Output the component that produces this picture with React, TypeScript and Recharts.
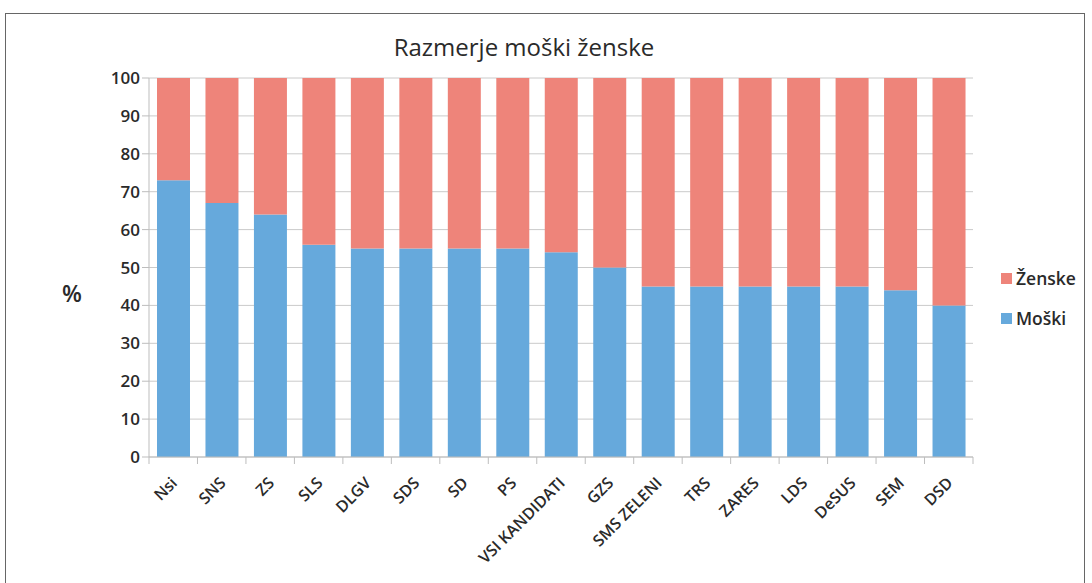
import { BarChart, Bar, XAxis, YAxis, CartesianGrid, Legend } from 'recharts';

const stranke = [
  'Nsi', 'SNS', 'ZS', 'SLS', 'DLGV', 'SDS', 'SD', 'PS', 'VSI KANDIDATI',
  'GZS', 'SMS ZELENI', 'TRS', 'ZARES', 'LDS', 'DeSUS', 'SEM', 'DSD',
];
const moski = [73, 67, 64, 56, 55, 55, 55, 55, 54, 50, 45, 45, 45, 45, 45, 44, 40];
const zenske = [27, 33, 36, 44, 45, 45, 45, 45, 46, 50, 55, 55, 55, 55, 55, 56, 60];
const yTicks = [0, 10, 20, 30, 40, 50, 60, 70, 80, 90, 100];

const data = stranke.map((s, i) => ({ stranka: s, moski: moski[i], zenske: zenske[i] }));

const W = 1092;
const H = 583;
const LEG_W = 90;
// legend sits at the right and takes its width out of the plot
const margin = { top: 78, right: 119 - LEG_W, bottom: 26, left: 0 };
const plotW = 973 - 149;
const half = plotW / stranke.length / 2;

const font = '"Open Sans", sans-serif';
const modra = '#66a9dc';
const rdeca = '#ee847a';
const siva = '#bdbdbd';
const tekst = '#2a2a2a';

const XTick = (props: any) => {
  const { x, y, payload, index } = props;
  const last = index === stranke.length - 1;
  const tx = x + 5;
  const ty = y + 19;
  return (
    <g>
      <line x1={x - half} x2={x - half} y1={y - 8} y2={y - 1} stroke={siva} />
      {last && <line x1={x + half} x2={x + half} y1={y - 8} y2={y - 1} stroke={siva} />}
      <text
        x={tx}
        y={ty}
        transform={`rotate(-45, ${tx}, ${ty})`}
        textAnchor="end"
        fontSize={16}
        fontWeight={600}
        fontFamily={font}
        fill={tekst}
      >
        {payload.value}
      </text>
    </g>
  );
};

const LegendaVsebina = (props: any) => {
  const items = [...(props.payload || [])].reverse();
  return (
    <div style={{ fontFamily: font, fontSize: 17.5, fontWeight: 600, color: tekst }}>
      {items.map((it: any) => (
        <div key={it.value} style={{ display: 'flex', alignItems: 'center', height: 40 }}>
          <span style={{ width: 11, height: 11, background: it.color, marginRight: 4, display: 'inline-block' }} />
          {it.value}
        </div>
      ))}
    </div>
  );
};

export default function App() {
  return (
    <div style={{ position: 'absolute', left: 0, top: 0, width: W, height: H, overflow: 'hidden', background: '#fff' }}>
      <div
        style={{
          position: 'absolute', left: 5, top: 13, width: 1080, height: 600,
          border: '1px solid #666', boxSizing: 'border-box',
        }}
      />
      <BarChart width={W} height={H} data={data} margin={margin} barSize={33}>
        <text x={524} y={56} textAnchor="middle" fontSize={24} fontFamily={font} fill={tekst}>
          Razmerje moški ženske
        </text>
        <text x={72} y={302} textAnchor="middle" fontSize={23} fontWeight={600} fontFamily={font} fill={tekst}>
          %
        </text>
        <CartesianGrid vertical={false} stroke="#cacaca" />
        <XAxis
          dataKey="stranka"
          interval={0}
          height={100}
          stroke={siva}
          tickLine={false}
          tick={<XTick />}
        />
        <YAxis
          width={149}
          domain={[0, 100]}
          ticks={yTicks}
          interval={0}
          stroke={siva}
          tickSize={7}
          tick={{ fontSize: 17, fontWeight: 600, fontFamily: font, fill: tekst }}
        />
        <Legend
          layout="vertical"
          align="right"
          verticalAlign="top"
          width={LEG_W}
          wrapperStyle={{ left: 1001, top: 258, width: LEG_W }}
          content={<LegendaVsebina />}
        />
        <Bar dataKey="moski" name="Moški" stackId="a" fill={modra} isAnimationActive={false} />
        <Bar dataKey="zenske" name="Ženske" stackId="a" fill={rdeca} isAnimationActive={false} />
      </BarChart>
    </div>
  );
}
